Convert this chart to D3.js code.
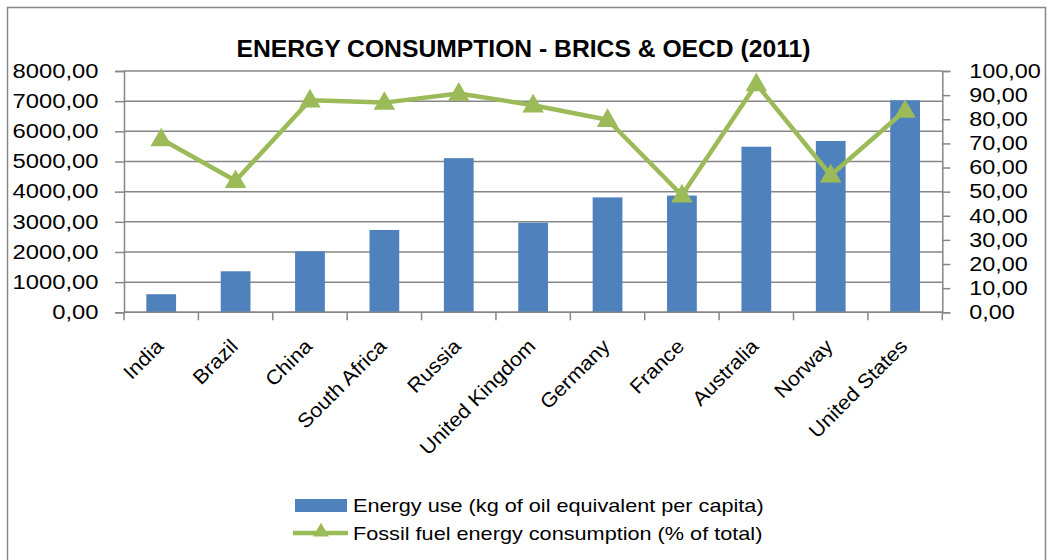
<!DOCTYPE html>
<html><head><meta charset="utf-8">
<script src="https://cdn.jsdelivr.net/npm/d3@7/dist/d3.min.js"></script>
<style>
html,body{margin:0;padding:0;background:#fff;}
text{font-family:"Liberation Sans",Arial,sans-serif;fill:#000;}
</style></head>
<body>
<svg id="chart" width="1048" height="560"></svg>
<script>
const categories = ["India","Brazil","China","South Africa","Russia","United Kingdom","Germany","France","Australia","Norway","United States"];
const energyUse = [600, 1360, 2020, 2730, 5110, 2970, 3810, 3870, 5490, 5680, 7030];
const fossilShare = [71.8, 54.5, 87.9, 86.9, 90.7, 85.8, 79.8, 48.5, 94.6, 56.8, 83.6];
const leftTicks = [0,1000,2000,3000,4000,5000,6000,7000,8000];
const rightTicks = [0,10,20,30,40,50,60,70,80,90,100];
const titleText = "ENERGY CONSUMPTION - BRICS & OECD (2011)";
const legendLabels = ["Energy use (kg of oil equivalent per capita)","Fossil fuel energy consumption (% of total)"];

const fmt = v => d3.format(".2f")(v).replace(".", ",");
const svg = d3.select("#chart");
const GRID = "#868686", BLUE = "#4F81BD", GREEN = "#9BBB59";
const L = 124, R = 942.3, T = 71, B = 312.3;

function stretch(sel, k){
  sel.each(function(){
    const w = this.getComputedTextLength();
    d3.select(this).attr("textLength", w*k).attr("lengthAdjust","spacingAndGlyphs");
  });
}

// outer border
svg.append("rect").attr("x",7.5).attr("y",7.5).attr("width",1038).attr("height",570)
  .attr("fill","#fff").attr("stroke",GRID).attr("stroke-width",1.5);

const x = d3.scaleBand().domain(categories).range([L,R]).paddingInner(0).paddingOuter(0);
const yL = d3.scaleLinear().domain([0,8000]).range([B,T]);
const yR = d3.scaleLinear().domain([0,100]).range([B,T]);

// gridlines
svg.append("g").selectAll("line").data(leftTicks).join("line")
  .attr("x1",L).attr("x2",R).attr("y1",d=>yL(d)).attr("y2",d=>yL(d))
  .attr("stroke",GRID).attr("stroke-width",1.5);

// left axis
const gL = svg.append("g").attr("transform",`translate(${L},0)`)
  .call(d3.axisLeft(yL).tickValues(leftTicks).tickFormat(fmt).tickSize(9).tickPadding(16.5));
gL.selectAll("path,line").attr("stroke",GRID).attr("stroke-width",1.5);
gL.selectAll("text").style("font-size","19.5px").attr("font-family",null);
stretch(gL.selectAll("text"),1.22);

// right axis
const gR = svg.append("g").attr("transform",`translate(${R},0)`)
  .call(d3.axisRight(yR).tickValues(rightTicks).tickFormat(fmt).tickSize(8).tickPadding(19));
gR.selectAll("path,line").attr("stroke",GRID).attr("stroke-width",1.5);
gR.selectAll("text").style("font-size","19.5px").attr("font-family",null);
stretch(gR.selectAll("text"),1.2);

// bottom axis: ticks at band boundaries
const bounds = categories.map(c=>x(c)).concat([R]);
svg.append("g").selectAll("line").data(bounds).join("line")
  .attr("x1",d=>d).attr("x2",d=>d).attr("y1",B).attr("y2",B+8)
  .attr("stroke",GRID).attr("stroke-width",1.5);

// bars
const bw = x.bandwidth()*0.4;
svg.append("g").selectAll("rect").data(energyUse).join("rect")
  .attr("x",(d,i)=>x(categories[i])+x.bandwidth()/2-bw/2)
  .attr("width",bw)
  .attr("y",d=>yL(d)).attr("height",d=>B-yL(d))
  .attr("fill",BLUE);

svg.append("line").attr("x1",L).attr("x2",R).attr("y1",B).attr("y2",B).attr("stroke",GRID).attr("stroke-width",1.5);

// line
const cx = i => x(categories[i])+x.bandwidth()/2;
const line = d3.line().x((d,i)=>cx(i)).y(d=>yR(d));
svg.append("path").datum(fossilShare).attr("d",line)
  .attr("fill","none").attr("stroke",GREEN).attr("stroke-width",4.5).attr("stroke-linejoin","round");
const tri = d3.symbol().type(d3.symbolTriangle).size(200);
svg.append("g").selectAll("path").data(fossilShare).join("path")
  .attr("d",tri).attr("transform",(d,i)=>`translate(${cx(i)},${yR(d)+1})`)
  .attr("fill",GREEN);

// category labels
const cl = svg.append("g").selectAll("text").data(categories).join("text")
  .attr("transform",(d)=>`translate(${x(d)+x.bandwidth()/2+3.5},${347.5}) rotate(-45)`)
  .attr("text-anchor","end").style("font-size","20px").text(d=>d);
stretch(cl,1.08);

// title
const t = svg.append("text").attr("x",523.5).attr("y",57).attr("text-anchor","middle")
  .style("font-size","23.5px").style("font-weight","bold").text(titleText);
stretch(t,1.05);

// legend
const lg = svg.append("g");
lg.append("rect").attr("x",295).attr("y",499).attr("width",52).attr("height",13).attr("fill",BLUE);
lg.append("line").attr("x1",293).attr("x2",348).attr("y1",533).attr("y2",533).attr("stroke",GREEN).attr("stroke-width",4.5);
lg.append("path").attr("d",d3.symbol().type(d3.symbolTriangle).size(110)).attr("transform","translate(321,532)").attr("fill",GREEN);
const lt = lg.selectAll("text").data(legendLabels).join("text")
  .attr("x",353).attr("y",(d,i)=>505+i*28).attr("dy","0.35em")
  .style("font-size","18.6px").text(d=>d);
stretch(lt,1.165);
</script>
</body></html>
